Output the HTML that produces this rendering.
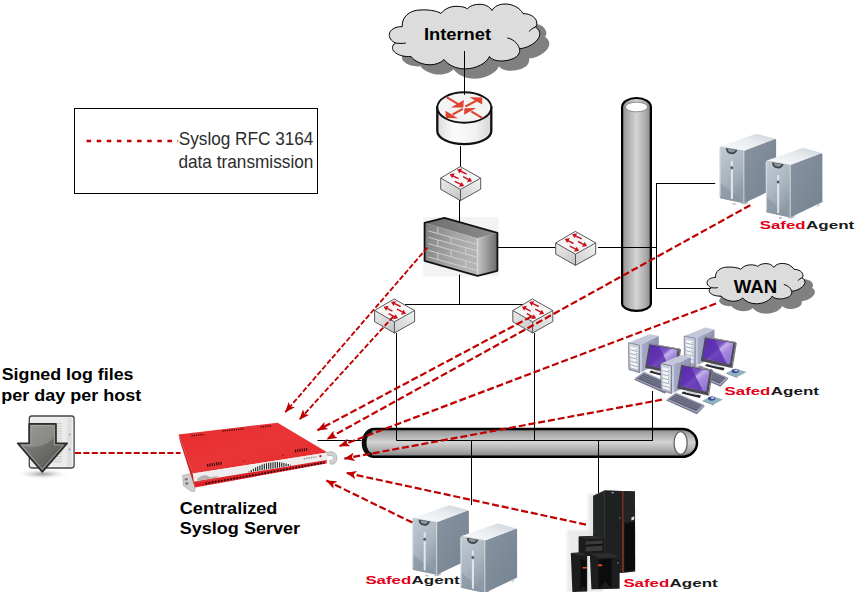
<!DOCTYPE html>
<html lang="en"><head><meta charset="utf-8"><title>Syslog diagram</title>
<style>html,body{margin:0;padding:0;background:#fff}body{width:859px;height:592px;overflow:hidden}</style>
</head><body>
<svg width="859" height="592" viewBox="0 0 859 592" style="display:block">

<defs>
<linearGradient id="vp" x1="0" x2="1" y1="0" y2="0">
 <stop offset="0" stop-color="#8a8a8a"/><stop offset="0.12" stop-color="#a2a2a2"/><stop offset="0.5" stop-color="#d4d4d4"/><stop offset="0.85" stop-color="#a6a6a6"/><stop offset="1" stop-color="#808080"/>
</linearGradient>
<linearGradient id="hp" x1="0" x2="0" y1="0" y2="1">
 <stop offset="0" stop-color="#808080"/><stop offset="0.12" stop-color="#a0a0a0"/><stop offset="0.48" stop-color="#d4d4d4"/><stop offset="0.82" stop-color="#a4a4a4"/><stop offset="1" stop-color="#7c7c7c"/>
</linearGradient>
<linearGradient id="rt" x1="0" x2="1" y1="0" y2="0">
 <stop offset="0" stop-color="#dcdcdc"/><stop offset="0.3" stop-color="#fbfbfb"/><stop offset="0.7" stop-color="#f2f2f2"/><stop offset="1" stop-color="#d6d6d6"/>
</linearGradient>
<linearGradient id="swl" x1="0" x2="1" y1="0" y2="1">
 <stop offset="0" stop-color="#ececec"/><stop offset="1" stop-color="#c4c4c4"/>
</linearGradient>
<linearGradient id="swr" x1="0" x2="1" y1="1" y2="0">
 <stop offset="0" stop-color="#cecece"/><stop offset="1" stop-color="#f2f2f2"/>
</linearGradient>
<linearGradient id="fwf" x1="0" x2="1" y1="0" y2="0.3">
 <stop offset="0" stop-color="#7e7e7e"/><stop offset="0.6" stop-color="#a4a4a4"/><stop offset="1" stop-color="#b4b4b4"/>
</linearGradient>
<linearGradient id="fwr" x1="0" x2="1" y1="0" y2="0">
 <stop offset="0" stop-color="#c6c6c6"/><stop offset="1" stop-color="#6c6c6c"/>
</linearGradient>
<linearGradient id="fwt" x1="0" x2="1" y1="0" y2="0">
 <stop offset="0" stop-color="#6e6e6e"/><stop offset="1" stop-color="#8c8c8c"/>
</linearGradient>
<linearGradient id="svf" x1="0" x2="0.4" y1="0" y2="1">
 <stop offset="0" stop-color="#c3ccd5"/><stop offset="0.6" stop-color="#a9b4bf"/><stop offset="1" stop-color="#8e9aa6"/>
</linearGradient>
<linearGradient id="svt" x1="0" x2="1" y1="1" y2="0">
 <stop offset="0" stop-color="#fbfcfd"/><stop offset="0.6" stop-color="#e6eaee"/><stop offset="1" stop-color="#c8d0d8"/>
</linearGradient>
<linearGradient id="svr" x1="0" x2="1" y1="0" y2="1">
 <stop offset="0" stop-color="#8793a0"/><stop offset="1" stop-color="#75828f"/>
</linearGradient>
<linearGradient id="scr" x1="0" x2="1" y1="0" y2="1">
 <stop offset="0" stop-color="#5a2fa8"/><stop offset="0.42" stop-color="#7d55c7"/><stop offset="0.5" stop-color="#c4b2ec"/><stop offset="0.62" stop-color="#a58ade"/><stop offset="1" stop-color="#8a6ad0"/>
</linearGradient>
<linearGradient id="twr" x1="0" x2="1" y1="0" y2="0">
 <stop offset="0" stop-color="#a9aeca"/><stop offset="1" stop-color="#8d93b2"/>
</linearGradient>
<linearGradient id="twf" x1="0" x2="0" y1="0" y2="1">
 <stop offset="0" stop-color="#cfd3e0"/><stop offset="1" stop-color="#a9aec2"/>
</linearGradient>
<linearGradient id="arr" x1="0" x2="1" y1="0" y2="1">
 <stop offset="0" stop-color="#90918c"/><stop offset="0.55" stop-color="#6c6d69"/><stop offset="1" stop-color="#4a4b48"/>
</linearGradient>
<linearGradient id="redtop" x1="0" x2="1" y1="0" y2="1">
 <stop offset="0" stop-color="#e52c2e"/><stop offset="0.5" stop-color="#ea3537"/><stop offset="1" stop-color="#e2282a"/>
</linearGradient>
<filter id="b1" x="-50%" y="-50%" width="200%" height="200%"><feGaussianBlur stdDeviation="0.6"/></filter>
<filter id="b2" x="-50%" y="-50%" width="200%" height="200%"><feGaussianBlur stdDeviation="1.6"/></filter>
<radialGradient id="shd"><stop offset="0" stop-color="#9a9a9a"/><stop offset="1" stop-color="#ffffff" stop-opacity="0"/></radialGradient>
<marker id="ah" viewBox="0 0 10 8" refX="9.6" refY="4" markerWidth="10.5" markerHeight="8.4" markerUnits="userSpaceOnUse" orient="auto">
 <path d="M10 4 L0 0 L2.4 4 L0 8 Z" fill="#c00000"/>
</marker>
<path id="cloud" d="M402.2 26.6 C401.5 17 410 10 420 10 C428 9.5 436 10.5 441 13.4 C445 8.5 451 6.3 456 6.3 C461 6.3 465 7 467.3 8.8 C470 5.5 475 4.3 480 4.3 C485 4.3 489.5 6.5 492 10.5 C494 6.5 499 4 505 4 C513 4 520 8 523 13.6 C530 13.5 537.5 17.5 536.8 24.4 C536.6 25.5 536 26.3 535.5 27 C538.5 29 540 31.5 539.8 34.4 C539.5 40 531 47.5 519.5 48.8 C520 51 519.5 52.5 518.8 53.8 C517 58 509 61 501 61 C496 61 491.5 59.5 489.4 56.5 C487 63 476 68.9 465 68.9 C456 68.9 448 65 444 59.5 C441 63 435 64.8 430 64.8 C422 64.8 414 61 411 56.5 C405 57 398 55.5 394.5 52 C391.5 49 391.8 45.5 395.5 43 C391 41 389 37.5 389.3 34.4 C389.6 30 395 26.5 402.2 26.6 Z"/>
<path id="cloudticks" d="M395.5 43 C399 43.6 403 43.6 405.8 43 M535.5 27 C533 28 530.5 29.8 528.9 31.6 M507.3 38 C512 38.5 518 43 519.5 48.8"/>
</defs>

<g>
<path d="M622.1 107 A14.4 9 0 0 1 650.9 107 L650.9 303.5 A14.4 7.3 0 0 1 622.1 303.5 Z" fill="url(#vp)" stroke="#000" stroke-width="2.2"/>
<ellipse cx="636.5" cy="107" rx="11.2" ry="4.8" fill="#fff" stroke="#555" stroke-width="0.6"/>
</g>
<g>
<path d="M374 429 L682 429 A15 13.9 0 0 1 682 456.8 L374 456.8 A11 13.9 0 0 1 374 429 Z" fill="url(#hp)" stroke="#000" stroke-width="2.5"/>
<path d="M372 430.4 A8.6 12.6 0 0 0 372 455.4" fill="none" stroke="#0a0a0a" stroke-width="4" filter="url(#b1)"/>
<path d="M369.6 437 L369.6 449" fill="none" stroke="#f0f0f0" stroke-width="2.6" filter="url(#b1)" opacity="0.9"/>
<ellipse cx="680.6" cy="443" rx="6.6" ry="11.4" fill="#fff" stroke="#6a6a6a" stroke-width="1.4"/>
</g>
<g stroke="#000" stroke-width="1" fill="none">
<line x1="460.5" y1="146" x2="460.5" y2="167.5"/>
<line x1="459.5" y1="274.6" x2="459.5" y2="304.5"/>
<line x1="405.2" y1="304.5" x2="523.3" y2="304.5"/>
<line x1="497.3" y1="247.5" x2="555.4" y2="247.5"/>
<line x1="598" y1="247.5" x2="657" y2="247.5"/>
<line x1="656.5" y1="183" x2="656.5" y2="289"/>
<line x1="656.5" y1="183.5" x2="715.2" y2="183.5"/>
<line x1="396.5" y1="333" x2="396.5" y2="440.5"/>
<line x1="534.5" y1="333" x2="534.5" y2="440.5"/>
<line x1="396.5" y1="440.5" x2="653" y2="440.5"/>
<line x1="652.5" y1="391" x2="652.5" y2="440.5"/>
<line x1="471.5" y1="440.5" x2="471.5" y2="505"/>
<line x1="598.5" y1="440.5" x2="598.5" y2="493"/>
<line x1="317.5" y1="440.5" x2="361.5" y2="440.5"/>
</g>
<g><use href="#cloud" transform="translate(9.5,9.8)" fill="#808080"/><use href="#cloud" fill="#dcdcdc" stroke="#000" stroke-width="1"/><use href="#cloudticks" fill="none" stroke="#000" stroke-width="1"/></g>
<g><g transform="translate(10,10)"><use href="#cloud" transform="translate(454.06,260.91) scale(0.65,0.6225)" fill="#808080"/></g><g transform="translate(454.06,260.91) scale(0.65,0.6225)"><use href="#cloud" fill="#dcdcdc" stroke="#000" stroke-width="1.5"/><use href="#cloudticks" fill="none" stroke="#000" stroke-width="1.5"/></g></g>
<g stroke="#000" stroke-width="1" fill="none">
<line x1="464.5" y1="51" x2="464.5" y2="95"/>
</g>
<g stroke="#000" stroke-width="1" fill="none">
<line x1="656.5" y1="288.5" x2="710.8" y2="288.5"/>
</g>
<g>
<path d="M437.3 107.2 L437.3 131 A27 13.2 0 0 0 491.3 131 L491.3 107.2 Z" fill="url(#rt)" stroke="#111" stroke-width="2.3"/>
<ellipse cx="464.3" cy="107.5" rx="27" ry="15.2" fill="#f4f4f4" stroke="#111" stroke-width="2"/>
<g fill="#de4431" stroke="#de4431" stroke-width="2.1">
<path d="M446.8 97.4 L458.3 104.2 M465.4 106.5 L476.6 100.6 M462.8 108.9 L452.7 114.5 M482 117.8 L471.3 111.3" fill="none"/>
<g stroke="none">
<path d="M463.8 100.1 L463.4 107.5 L451 107.5 Z"/>
<path d="M469.4 97.3 L482.2 97.5 L482.2 104.4 Z"/>
<path d="M445.5 110.8 L445.8 118 L457.9 118.2 Z"/>
<path d="M476.2 107.9 L464.4 108.2 L464.1 114.7 Z"/>
</g>
</g>
<line x1="464.5" y1="80" x2="464.5" y2="94.8" stroke="#000" stroke-width="1"/>
</g>
<g transform="translate(460.3,166.6)">
<path d="M-19.6 11.5 L0.2 22.8 L0.2 34 L-19.6 22.7 Z" fill="url(#swl)"/>
<path d="M20.4 11.5 L0.2 22.8 L0.2 34 L20.4 22.6 Z" fill="url(#swr)"/>
<path d="M0 0 L20.4 11.5 L0.2 22.8 L-19.6 11.5 Z" fill="#f7f7f7"/>
<path d="M0 0 L20.4 11.5 L20.4 22.6 L0.2 34 L-19.6 22.7 L-19.6 11.5 Z M-19.6 11.5 L0.2 22.8 L20.4 11.5 M0.2 22.8 L0.2 34" fill="none" stroke="#3c3c3c" stroke-width="0.85" stroke-linejoin="round"/>
<g stroke="#cb0f1c" stroke-width="1.5" fill="#cb0f1c">
<path d="M6.4 7.5 L0 4.4" fill="none"/><path d="M-3.2 2.9 L1.9 1.9 L-0.7 6.9 Z" stroke="none"/>
<path d="M-1.8 12.1 L-7.4 9.2" fill="none"/><path d="M-10.6 7.7 L-5.5 6.7 L-8.1 11.7 Z" stroke="none"/>
<path d="M2.8 10.1 L8.6 13.2" fill="none"/><path d="M11.8 14.7 L6.7 15.7 L9.3 10.7 Z" stroke="none"/>
<path d="M-5.6 14.7 L0.6 17.8" fill="none"/><path d="M3.8 19.3 L-1.3 20.3 L1.3 15.3 Z" stroke="none"/>
</g>
</g>
<g transform="translate(575.3,231.4)">
<path d="M-19.6 11.5 L0.2 22.8 L0.2 34 L-19.6 22.7 Z" fill="url(#swl)"/>
<path d="M20.4 11.5 L0.2 22.8 L0.2 34 L20.4 22.6 Z" fill="url(#swr)"/>
<path d="M0 0 L20.4 11.5 L0.2 22.8 L-19.6 11.5 Z" fill="#f7f7f7"/>
<path d="M0 0 L20.4 11.5 L20.4 22.6 L0.2 34 L-19.6 22.7 L-19.6 11.5 Z M-19.6 11.5 L0.2 22.8 L20.4 11.5 M0.2 22.8 L0.2 34" fill="none" stroke="#3c3c3c" stroke-width="0.85" stroke-linejoin="round"/>
<g stroke="#cb0f1c" stroke-width="1.5" fill="#cb0f1c">
<path d="M6.4 7.5 L0 4.4" fill="none"/><path d="M-3.2 2.9 L1.9 1.9 L-0.7 6.9 Z" stroke="none"/>
<path d="M-1.8 12.1 L-7.4 9.2" fill="none"/><path d="M-10.6 7.7 L-5.5 6.7 L-8.1 11.7 Z" stroke="none"/>
<path d="M2.8 10.1 L8.6 13.2" fill="none"/><path d="M11.8 14.7 L6.7 15.7 L9.3 10.7 Z" stroke="none"/>
<path d="M-5.6 14.7 L0.6 17.8" fill="none"/><path d="M3.8 19.3 L-1.3 20.3 L1.3 15.3 Z" stroke="none"/>
</g>
</g>
<g transform="translate(394.2,299)">
<path d="M-19.6 11.5 L0.2 22.8 L0.2 34 L-19.6 22.7 Z" fill="url(#swl)"/>
<path d="M20.4 11.5 L0.2 22.8 L0.2 34 L20.4 22.6 Z" fill="url(#swr)"/>
<path d="M0 0 L20.4 11.5 L0.2 22.8 L-19.6 11.5 Z" fill="#f7f7f7"/>
<path d="M0 0 L20.4 11.5 L20.4 22.6 L0.2 34 L-19.6 22.7 L-19.6 11.5 Z M-19.6 11.5 L0.2 22.8 L20.4 11.5 M0.2 22.8 L0.2 34" fill="none" stroke="#3c3c3c" stroke-width="0.85" stroke-linejoin="round"/>
<g stroke="#cb0f1c" stroke-width="1.5" fill="#cb0f1c">
<path d="M6.4 7.5 L0 4.4" fill="none"/><path d="M-3.2 2.9 L1.9 1.9 L-0.7 6.9 Z" stroke="none"/>
<path d="M-1.8 12.1 L-7.4 9.2" fill="none"/><path d="M-10.6 7.7 L-5.5 6.7 L-8.1 11.7 Z" stroke="none"/>
<path d="M2.8 10.1 L8.6 13.2" fill="none"/><path d="M11.8 14.7 L6.7 15.7 L9.3 10.7 Z" stroke="none"/>
<path d="M-5.6 14.7 L0.6 17.8" fill="none"/><path d="M3.8 19.3 L-1.3 20.3 L1.3 15.3 Z" stroke="none"/>
</g>
</g>
<g transform="translate(532.4,299)">
<path d="M-19.6 11.5 L0.2 22.8 L0.2 34 L-19.6 22.7 Z" fill="url(#swl)"/>
<path d="M20.4 11.5 L0.2 22.8 L0.2 34 L20.4 22.6 Z" fill="url(#swr)"/>
<path d="M0 0 L20.4 11.5 L0.2 22.8 L-19.6 11.5 Z" fill="#f7f7f7"/>
<path d="M0 0 L20.4 11.5 L20.4 22.6 L0.2 34 L-19.6 22.7 L-19.6 11.5 Z M-19.6 11.5 L0.2 22.8 L20.4 11.5 M0.2 22.8 L0.2 34" fill="none" stroke="#3c3c3c" stroke-width="0.85" stroke-linejoin="round"/>
<g stroke="#cb0f1c" stroke-width="1.5" fill="#cb0f1c">
<path d="M6.4 7.5 L0 4.4" fill="none"/><path d="M-3.2 2.9 L1.9 1.9 L-0.7 6.9 Z" stroke="none"/>
<path d="M-1.8 12.1 L-7.4 9.2" fill="none"/><path d="M-10.6 7.7 L-5.5 6.7 L-8.1 11.7 Z" stroke="none"/>
<path d="M2.8 10.1 L8.6 13.2" fill="none"/><path d="M11.8 14.7 L6.7 15.7 L9.3 10.7 Z" stroke="none"/>
<path d="M-5.6 14.7 L0.6 17.8" fill="none"/><path d="M3.8 19.3 L-1.3 20.3 L1.3 15.3 Z" stroke="none"/>
</g>
</g>
<g>
<rect x="423.2" y="217" width="75.5" height="59.5" fill="#f3f3f3"/>
<path d="M425 222.9 L444.4 218.3 L497 233.2 L477.3 238.3 Z" fill="url(#fwt)"/>
<path d="M425 222.9 L477.3 238.3 L477.3 275.3 L425 260.5 Z" fill="url(#fwf)"/>
<path d="M477.3 238.3 L497 233.2 L497 270.6 L477.3 275.3 Z" fill="url(#fwr)"/>
<g stroke="#d4d4d4" stroke-width="0.9" fill="none">
<path d="M428.3 230.9 L477.1 244.5 M428.3 237.3 L477.1 250.8 M428.3 243.6 L477.1 257.2 M428.3 250.3 L477.1 264.1 M428.3 256.9 L477.1 270.5"/>
<path d="M437.8 227.2 L437.8 233.5 M451.1 237.2 L451.1 243.6 M437.8 239.9 L437.8 246.3 M465.7 247.6 L465.7 254.1 M451.1 249.9 L451.1 256.6 M437.8 252.9 L437.8 259.5 M465.7 260.8 L465.7 267.3"/>
</g>
<path d="M477.3 238.3 L477.3 275.3" stroke="#e0e0e0" stroke-width="0.8"/>
<path d="M424.6 222.8 L444.4 217.9 L497.4 232.9 L497.4 270.8 L477.5 275.9 L424.6 260.8 Z" fill="none" stroke="#111" stroke-width="1.8" stroke-linejoin="round"/>
</g>
<g stroke="#000" stroke-width="1" fill="none">
<line x1="459.5" y1="200" x2="459.5" y2="223"/>
<line x1="497.3" y1="247.5" x2="520" y2="247.5"/>
<line x1="459.5" y1="274.6" x2="459.5" y2="290"/>
</g>
<g transform="translate(719.6,146.4)">
<path d="M13 56.5 L16 57 L16 58.6 L13 58.2 Z M21 57.6 L25.5 58 L28.5 56.8 L28.5 54 Z M50 46.5 L53.5 45.2 L53.5 43 Z" fill="#b9bfc4"/>
<path d="M24.3 4.3 L55.2 -7.4 Q56.5 -7.6 56.5 -6 L56.5 41.5 L24.3 56.8 Z" fill="url(#svr)"/>
<path d="M1 -0.2 L36 -12.4 Q37 -12.7 38.5 -12.3 L55.8 -7.6 L24.3 4.4 L1.5 0.6 Z" fill="url(#svt)"/>
<path d="M0 1.4 Q0 -0.2 1.6 0 L24.3 4.2 L24.3 56.8 L1.3 52 Q0.2 51.6 0.2 50.4 Z" fill="url(#svf)"/>
<path d="M0.2 36 L24.3 56.8 L1.3 52 Q0.2 51.6 0.2 50.4 Z" fill="#8593a0" opacity="0.55"/>
<path d="M0.3 1.2 L0.5 50" stroke="#dfe5ea" stroke-width="0.9" fill="none"/>
<path d="M24.3 4.4 L24.3 56.6" stroke="#d9dfe5" stroke-width="0.8" fill="none"/>
<path d="M6.2 1.6 L17.8 3.7 A6 6.4 0 0 1 6.2 1.6 Z" fill="#3f464c"/>
<path d="M8 2.3 L16 3.7 A4.2 4 0 0 1 8 2.3 Z" fill="#8e979e"/>
<rect x="11.3" y="12.5" width="2" height="38" fill="#e1e6ea" transform="skewY(9)" />
<circle cx="12.2" cy="21.4" r="1.7" fill="#4c5560" stroke="#c5ccd2" stroke-width="0.5"/>
</g>
<g transform="translate(765.9,160.6)">
<path d="M13 56.5 L16 57 L16 58.6 L13 58.2 Z M21 57.6 L25.5 58 L28.5 56.8 L28.5 54 Z M50 46.5 L53.5 45.2 L53.5 43 Z" fill="#b9bfc4"/>
<path d="M24.3 4.3 L55.2 -7.4 Q56.5 -7.6 56.5 -6 L56.5 41.5 L24.3 56.8 Z" fill="url(#svr)"/>
<path d="M1 -0.2 L36 -12.4 Q37 -12.7 38.5 -12.3 L55.8 -7.6 L24.3 4.4 L1.5 0.6 Z" fill="url(#svt)"/>
<path d="M0 1.4 Q0 -0.2 1.6 0 L24.3 4.2 L24.3 56.8 L1.3 52 Q0.2 51.6 0.2 50.4 Z" fill="url(#svf)"/>
<path d="M0.2 36 L24.3 56.8 L1.3 52 Q0.2 51.6 0.2 50.4 Z" fill="#8593a0" opacity="0.55"/>
<path d="M0.3 1.2 L0.5 50" stroke="#dfe5ea" stroke-width="0.9" fill="none"/>
<path d="M24.3 4.4 L24.3 56.6" stroke="#d9dfe5" stroke-width="0.8" fill="none"/>
<path d="M6.2 1.6 L17.8 3.7 A6 6.4 0 0 1 6.2 1.6 Z" fill="#3f464c"/>
<path d="M8 2.3 L16 3.7 A4.2 4 0 0 1 8 2.3 Z" fill="#8e979e"/>
<rect x="11.3" y="12.5" width="2" height="38" fill="#e1e6ea" transform="skewY(9)" />
<circle cx="12.2" cy="21.4" r="1.7" fill="#4c5560" stroke="#c5ccd2" stroke-width="0.5"/>
</g>
<g transform="translate(412.4,517.9)">
<path d="M13 56.5 L16 57 L16 58.6 L13 58.2 Z M21 57.6 L25.5 58 L28.5 56.8 L28.5 54 Z M50 46.5 L53.5 45.2 L53.5 43 Z" fill="#b9bfc4"/>
<path d="M24.3 4.3 L55.2 -7.4 Q56.5 -7.6 56.5 -6 L56.5 41.5 L24.3 56.8 Z" fill="url(#svr)"/>
<path d="M1 -0.2 L36 -12.4 Q37 -12.7 38.5 -12.3 L55.8 -7.6 L24.3 4.4 L1.5 0.6 Z" fill="url(#svt)"/>
<path d="M0 1.4 Q0 -0.2 1.6 0 L24.3 4.2 L24.3 56.8 L1.3 52 Q0.2 51.6 0.2 50.4 Z" fill="url(#svf)"/>
<path d="M0.2 36 L24.3 56.8 L1.3 52 Q0.2 51.6 0.2 50.4 Z" fill="#8593a0" opacity="0.55"/>
<path d="M0.3 1.2 L0.5 50" stroke="#dfe5ea" stroke-width="0.9" fill="none"/>
<path d="M24.3 4.4 L24.3 56.6" stroke="#d9dfe5" stroke-width="0.8" fill="none"/>
<path d="M6.2 1.6 L17.8 3.7 A6 6.4 0 0 1 6.2 1.6 Z" fill="#3f464c"/>
<path d="M8 2.3 L16 3.7 A4.2 4 0 0 1 8 2.3 Z" fill="#8e979e"/>
<rect x="11.3" y="12.5" width="2" height="38" fill="#e1e6ea" transform="skewY(9)" />
<circle cx="12.2" cy="21.4" r="1.7" fill="#4c5560" stroke="#c5ccd2" stroke-width="0.5"/>
</g>
<g transform="translate(460.6,536.1)">
<path d="M13 56.5 L16 57 L16 58.6 L13 58.2 Z M21 57.6 L25.5 58 L28.5 56.8 L28.5 54 Z M50 46.5 L53.5 45.2 L53.5 43 Z" fill="#b9bfc4"/>
<path d="M24.3 4.3 L55.2 -7.4 Q56.5 -7.6 56.5 -6 L56.5 41.5 L24.3 56.8 Z" fill="url(#svr)"/>
<path d="M1 -0.2 L36 -12.4 Q37 -12.7 38.5 -12.3 L55.8 -7.6 L24.3 4.4 L1.5 0.6 Z" fill="url(#svt)"/>
<path d="M0 1.4 Q0 -0.2 1.6 0 L24.3 4.2 L24.3 56.8 L1.3 52 Q0.2 51.6 0.2 50.4 Z" fill="url(#svf)"/>
<path d="M0.2 36 L24.3 56.8 L1.3 52 Q0.2 51.6 0.2 50.4 Z" fill="#8593a0" opacity="0.55"/>
<path d="M0.3 1.2 L0.5 50" stroke="#dfe5ea" stroke-width="0.9" fill="none"/>
<path d="M24.3 4.4 L24.3 56.6" stroke="#d9dfe5" stroke-width="0.8" fill="none"/>
<path d="M6.2 1.6 L17.8 3.7 A6 6.4 0 0 1 6.2 1.6 Z" fill="#3f464c"/>
<path d="M8 2.3 L16 3.7 A4.2 4 0 0 1 8 2.3 Z" fill="#8e979e"/>
<rect x="11.3" y="12.5" width="2" height="38" fill="#e1e6ea" transform="skewY(9)" />
<circle cx="12.2" cy="21.4" r="1.7" fill="#4c5560" stroke="#c5ccd2" stroke-width="0.5"/>
</g>
<g transform="translate(-32.1,-20.8)">
<path d="M671.5 365.9 L690.9 356.9 L690.9 385 L671.5 393.6 Z" fill="url(#twr)"/>
<path d="M671.9 366 L674 365 L674 392.4 L671.9 393.4 Z" fill="#c9cde0"/>
<path d="M660.5 363.6 L681.6 355.1 L690.9 356.9 L671.5 365.9 Z" fill="#c3c7d9"/>
<path d="M660.5 363.6 L671.5 365.9 L671.5 393.6 L661 390.4 Z" fill="url(#twf)" stroke="#5a5d70" stroke-width="0.6"/>
<path d="M662.4 367.2 L669.8 368.8 L669.8 390.4 L662.8 388.2 Z" fill="#f4f5f9"/>
<path d="M662.5 370.6 L669.7 372.3 M662.6 374.4 L669.7 376.2 M662.7 378.2 L669.7 380.1 M662.8 382 L669.7 384 M662.8 385.6 L669.7 387.6" stroke="#8489a0" stroke-width="0.7"/>
<path d="M668.6 370 L668.6 384" stroke="#35b048" stroke-width="0.9" stroke-dasharray="1 2.8"/>
<path d="M666.2 400.6 L675.9 393.4 L704.8 406.1 L696.8 414.2 Z" fill="#6f7389"/>
<path d="M666.4 399.4 L675.9 392.4 L704.6 405 L696.8 412.8 Z" fill="#a9acc0"/>
<path d="M668.6 399.2 L676 394 L702.2 405.3 L696.3 411.2 Z" fill="#5b5e74"/>
<path d="M670.6 397.8 L698.2 409.4 M672.6 396.4 L699.8 407.9 M674.4 395.1 L701 406.4" stroke="#9a9db4" stroke-width="0.5"/>
<path d="M668.6 399.2 L676 394 L702.2 405.3 L696.3 411.2 Z" fill="none" stroke="#8d90a8" stroke-width="1" stroke-dasharray="0.6 1.4" opacity="0.7"/>
<path d="M702.8 400.2 L712 396 L723 399.4 L713.7 404.6 Z" fill="#8fb3c1"/>
<path d="M702.8 400.2 L713.7 404.6 L713.7 405.6 L702.8 401.2 Z" fill="#6a8c9a"/>
<ellipse cx="711.6" cy="398.6" rx="3.7" ry="2.1" fill="#3f4c8e"/>
<ellipse cx="712.6" cy="398" rx="1.8" ry="1" fill="#c4cbea"/>
<path d="M683 391.4 L701 395.6 L699.8 398 L681.5 393.4 Z" fill="#26262c"/>
<path d="M687 388.4 L697.5 390.6 L697 395 L685.5 392.6 Z" fill="#d4d6e0"/>
<path d="M681.4 364 L712.2 369.6 L708 395.4 L677.2 388.6 Z" fill="#4b4b53"/>
<path d="M681.5 364.5 L712 370.1" stroke="#9b9ba3" stroke-width="1"/>
<path d="M711.6 369.5 L713.2 370.4 L709 396 L708 395.4 Z" fill="#77777f"/>
<path d="M682.9 365.9 L709.7 370.8 L706.3 391.7 L679.4 385.8 Z" fill="url(#scr)"/>
<path d="M682.9 365.9 L691.4 367.4 L703 391 L679.4 385.8 Z" fill="#5a2cae" opacity="0.8"/>
</g>
<g transform="translate(23.6,-27.5)">
<path d="M671.5 365.9 L690.9 356.9 L690.9 385 L671.5 393.6 Z" fill="url(#twr)"/>
<path d="M671.9 366 L674 365 L674 392.4 L671.9 393.4 Z" fill="#c9cde0"/>
<path d="M660.5 363.6 L681.6 355.1 L690.9 356.9 L671.5 365.9 Z" fill="#c3c7d9"/>
<path d="M660.5 363.6 L671.5 365.9 L671.5 393.6 L661 390.4 Z" fill="url(#twf)" stroke="#5a5d70" stroke-width="0.6"/>
<path d="M662.4 367.2 L669.8 368.8 L669.8 390.4 L662.8 388.2 Z" fill="#f4f5f9"/>
<path d="M662.5 370.6 L669.7 372.3 M662.6 374.4 L669.7 376.2 M662.7 378.2 L669.7 380.1 M662.8 382 L669.7 384 M662.8 385.6 L669.7 387.6" stroke="#8489a0" stroke-width="0.7"/>
<path d="M668.6 370 L668.6 384" stroke="#35b048" stroke-width="0.9" stroke-dasharray="1 2.8"/>
<path d="M666.2 400.6 L675.9 393.4 L704.8 406.1 L696.8 414.2 Z" fill="#6f7389"/>
<path d="M666.4 399.4 L675.9 392.4 L704.6 405 L696.8 412.8 Z" fill="#a9acc0"/>
<path d="M668.6 399.2 L676 394 L702.2 405.3 L696.3 411.2 Z" fill="#5b5e74"/>
<path d="M670.6 397.8 L698.2 409.4 M672.6 396.4 L699.8 407.9 M674.4 395.1 L701 406.4" stroke="#9a9db4" stroke-width="0.5"/>
<path d="M668.6 399.2 L676 394 L702.2 405.3 L696.3 411.2 Z" fill="none" stroke="#8d90a8" stroke-width="1" stroke-dasharray="0.6 1.4" opacity="0.7"/>
<path d="M702.8 400.2 L712 396 L723 399.4 L713.7 404.6 Z" fill="#8fb3c1"/>
<path d="M702.8 400.2 L713.7 404.6 L713.7 405.6 L702.8 401.2 Z" fill="#6a8c9a"/>
<ellipse cx="711.6" cy="398.6" rx="3.7" ry="2.1" fill="#3f4c8e"/>
<ellipse cx="712.6" cy="398" rx="1.8" ry="1" fill="#c4cbea"/>
<path d="M683 391.4 L701 395.6 L699.8 398 L681.5 393.4 Z" fill="#26262c"/>
<path d="M687 388.4 L697.5 390.6 L697 395 L685.5 392.6 Z" fill="#d4d6e0"/>
<path d="M681.4 364 L712.2 369.6 L708 395.4 L677.2 388.6 Z" fill="#4b4b53"/>
<path d="M681.5 364.5 L712 370.1" stroke="#9b9ba3" stroke-width="1"/>
<path d="M711.6 369.5 L713.2 370.4 L709 396 L708 395.4 Z" fill="#77777f"/>
<path d="M682.9 365.9 L709.7 370.8 L706.3 391.7 L679.4 385.8 Z" fill="url(#scr)"/>
<path d="M682.9 365.9 L691.4 367.4 L703 391 L679.4 385.8 Z" fill="#5a2cae" opacity="0.8"/>
</g>
<g transform="translate(0,0)">
<path d="M671.5 365.9 L690.9 356.9 L690.9 385 L671.5 393.6 Z" fill="url(#twr)"/>
<path d="M671.9 366 L674 365 L674 392.4 L671.9 393.4 Z" fill="#c9cde0"/>
<path d="M660.5 363.6 L681.6 355.1 L690.9 356.9 L671.5 365.9 Z" fill="#c3c7d9"/>
<path d="M660.5 363.6 L671.5 365.9 L671.5 393.6 L661 390.4 Z" fill="url(#twf)" stroke="#5a5d70" stroke-width="0.6"/>
<path d="M662.4 367.2 L669.8 368.8 L669.8 390.4 L662.8 388.2 Z" fill="#f4f5f9"/>
<path d="M662.5 370.6 L669.7 372.3 M662.6 374.4 L669.7 376.2 M662.7 378.2 L669.7 380.1 M662.8 382 L669.7 384 M662.8 385.6 L669.7 387.6" stroke="#8489a0" stroke-width="0.7"/>
<path d="M668.6 370 L668.6 384" stroke="#35b048" stroke-width="0.9" stroke-dasharray="1 2.8"/>
<path d="M666.2 400.6 L675.9 393.4 L704.8 406.1 L696.8 414.2 Z" fill="#6f7389"/>
<path d="M666.4 399.4 L675.9 392.4 L704.6 405 L696.8 412.8 Z" fill="#a9acc0"/>
<path d="M668.6 399.2 L676 394 L702.2 405.3 L696.3 411.2 Z" fill="#5b5e74"/>
<path d="M670.6 397.8 L698.2 409.4 M672.6 396.4 L699.8 407.9 M674.4 395.1 L701 406.4" stroke="#9a9db4" stroke-width="0.5"/>
<path d="M668.6 399.2 L676 394 L702.2 405.3 L696.3 411.2 Z" fill="none" stroke="#8d90a8" stroke-width="1" stroke-dasharray="0.6 1.4" opacity="0.7"/>
<path d="M702.8 400.2 L712 396 L723 399.4 L713.7 404.6 Z" fill="#8fb3c1"/>
<path d="M702.8 400.2 L713.7 404.6 L713.7 405.6 L702.8 401.2 Z" fill="#6a8c9a"/>
<ellipse cx="711.6" cy="398.6" rx="3.7" ry="2.1" fill="#3f4c8e"/>
<ellipse cx="712.6" cy="398" rx="1.8" ry="1" fill="#c4cbea"/>
<path d="M683 391.4 L701 395.6 L699.8 398 L681.5 393.4 Z" fill="#26262c"/>
<path d="M687 388.4 L697.5 390.6 L697 395 L685.5 392.6 Z" fill="#d4d6e0"/>
<path d="M681.4 364 L712.2 369.6 L708 395.4 L677.2 388.6 Z" fill="#4b4b53"/>
<path d="M681.5 364.5 L712 370.1" stroke="#9b9ba3" stroke-width="1"/>
<path d="M711.6 369.5 L713.2 370.4 L709 396 L708 395.4 Z" fill="#77777f"/>
<path d="M682.9 365.9 L709.7 370.8 L706.3 391.7 L679.4 385.8 Z" fill="url(#scr)"/>
<path d="M682.9 365.9 L691.4 367.4 L703 391 L679.4 385.8 Z" fill="#5a2cae" opacity="0.8"/>
</g>
<g stroke="#000" stroke-width="1" fill="none">
<line x1="652.5" y1="391" x2="652.5" y2="430"/>
</g>
<g>
<rect x="567" y="530" width="36" height="62" fill="#ebebeb" filter="url(#b2)"/>
<rect x="588.6" y="494" width="8" height="46" fill="#e4e4e4" filter="url(#b2)"/>
<path d="M593.1 495.8 L604.3 490.4 L604.3 571 L593.1 566 Z" fill="#242526"/>
<path d="M604.3 490.4 L635 491.4 L635.2 571.6 L622 573 L604.3 571 Z" fill="#1a1b1c"/>
<path d="M604.3 490.4 L622.4 491 L622.4 572.8 L604.3 571 Z" fill="#1f2021"/>
<path d="M604.6 491 L604.6 570.8" stroke="#3a3b3c" stroke-width="0.7"/>
<path d="M622.4 491 L623.6 491 L623.6 572.9 L622.4 572.8 Z" fill="#a6401f"/>
<path d="M623.6 491.1 L635 491.4 L635 521.6 L623.6 522.6 Z" fill="#232425"/>
<path d="M624.6 523.4 L634.9 522.4 L634.9 569.4 L624.6 571.4 Z" fill="#0b0b0c"/>
<path d="M631.4 517.4 L634.2 516.2 L634.2 519.4 L631.4 520.6 Z" fill="#dcdcdc"/>
<rect x="611.6" y="492.2" width="2.2" height="1.1" fill="#c0c0c0"/>
<rect x="619.4" y="517" width="0.8" height="2" fill="#777"/>
<path d="M578.6 536.6 L597 535.8 L604.4 538.2 L604.4 556 L578.6 556 Z" fill="#1b1c1d"/>
<path d="M578.6 536.6 L597 535.8 L604.4 538.2 L586 539.2 Z" fill="#2c2d2e"/>
<path d="M585.6 541.4 L602.4 540.4 L602.4 544 L585.6 545 Z M585.6 546.8 L602.4 545.8 L602.4 550.4 L585.6 551.4 Z" fill="#3a3b3d"/>
<path d="M585.6 545.3 L602.4 544.3" stroke="#0a0a0a" stroke-width="0.8"/>
<path d="M570.8 553 L581.4 552.4 L587.2 554.8 L587.2 591.4 L572.4 592 Z" fill="#1b1c1d"/>
<path d="M570.8 553 L581.4 552.4 L587.2 554.8 L577 555.6 Z" fill="#2d2e2f"/>
<path d="M580.6 559.4 L586.4 560.6 L586.4 590 L583.4 585.4 L580.6 590.4 Z" fill="#0a0a0b"/>
<rect x="582.6" y="567" width="4.2" height="1.5" fill="#e0562c"/>
<path d="M589.8 553.6 L610 553 L619.6 557.4 L619.6 588.8 L591.4 589.2 Z" fill="#1c1d1e"/>
<path d="M589.8 553.6 L610 553 L619.6 557.4 L599 558 Z" fill="#2d2e2f"/>
<path d="M598.6 559.8 L611.4 558.4 L611.4 588.8 L605.4 581.4 L598.6 589 Z" fill="#0c0c0d"/>
<rect x="598" y="564.4" width="4.2" height="1.8" fill="#e0562c"/>
<rect x="617" y="562.2" width="1.4" height="1.2" fill="#8a8a8a"/>
</g>
<g>
<path d="M182.6 475.4 L193 473.4 L195 488.2 L194.6 491.6 L190.6 491 L183.4 485.6 Z" fill="#cfcfcf" stroke="#9a9a9a" stroke-width="0.6"/>
<path d="M184.6 478.4 L187.6 477.9 L187.8 480 L184.8 480.5 Z M185.2 482.6 L188.2 482.2 L188.4 484.4 L185.4 484.8 Z" fill="#777"/>
<path d="M326.4 453 C331 450.2 336.4 452 336.9 457.4 C337.3 462 334 465 330.4 464 L329.6 460.6 C332 461 333.6 459.6 333.4 457.4 C333.2 455.4 331 454.8 328.6 456 Z" fill="#d2d2d2" stroke="#9a9a9a" stroke-width="0.6"/>
<path d="M178.6 434.5 L277.6 422.8 L327.5 452.6 L192.8 473.6 Z" fill="url(#redtop)"/>
<path d="M178.6 434.5 L192.8 473.6 L194.8 487.5 L179.6 440 Z" fill="#cc2124"/>
<path d="M192.8 473.6 L327.5 452.6 L326.5 463.5 L194.8 487.6 Z" fill="#dc2226"/>
<path d="M192.8 473.7 L327.5 452.7 L327 460.1 L193.9 481.7 Z" fill="#ededed"/>
<path d="M192.8 473.9 L327.5 452.9" stroke="#fafafa" stroke-width="0.8"/>
<path d="M205.4 483.6 L324.4 462.6" stroke="#160606" stroke-width="1.7" stroke-dasharray="1.7 1.45" fill="none"/>
<g stroke="#1a1a1a" stroke-width="1.05" fill="none"><path d="M249.0 472.3 L249.0 471.5 M251.2 471.9 L251.2 470.0 M253.4 471.6 L253.4 468.7 M255.6 471.2 L255.6 467.5 M257.7 470.9 L257.7 466.4 M259.9 470.5 L259.9 465.4 M262.1 470.2 L262.1 464.6 M264.3 469.8 L264.3 463.8 M266.5 469.5 L266.5 463.2 M268.7 469.1 L268.7 462.7 M270.8 468.8 L270.8 462.4 M273.0 468.4 L273.0 462.2 M275.2 468.1 L275.2 462.1 M277.4 467.7 L277.4 462.1 M279.6 467.4 L279.6 462.2 M281.8 467.0 L281.8 462.5 M283.9 466.7 L283.9 462.9 M286.1 466.3 L286.1 463.4 M288.3 466.0 L288.3 464.0 M290.5 465.6 L290.5 464.8"/></g>
<g stroke="#2a0808" fill="none" stroke-dasharray="1.1 1.15">
<path d="M191.5 435.8 L203.8 434.4" stroke-width="1.3"/><path d="M222.5 431 L244.4 428.8" stroke-width="1.3"/><path d="M260.6 427 L272 425.8" stroke-width="1.3"/>
<path d="M207.2 465.4 L222.6 463" stroke-width="3"/><path d="M295 451 L308 449.2" stroke-width="2.8"/>
</g>
<path d="M303.8 458.8 L316.6 456.8" stroke="#8a8a8a" stroke-width="1.3" stroke-dasharray="1.4 1"/>
<rect x="319.4" y="455.2" width="2" height="2" fill="#a01818"/>
<path d="M197 479.4 C199 476.4 204 474.4 207.6 475.8 C209 476.4 210 477.4 211 477 L217.6 476 L217.8 477.6 L197.6 480.8 Z" fill="#b9b1b1"/>
<path d="M196.6 482 L217.8 478.6" stroke="#d84040" stroke-width="1.5"/>
<circle cx="244.3" cy="461.2" r="0.8" fill="#a81515"/><circle cx="282.9" cy="455.2" r="0.8" fill="#a81515"/>
</g>
<g>
<ellipse cx="42.5" cy="474" rx="28" ry="5.6" fill="url(#shd)"/>
<rect x="29.3" y="416" width="44.8" height="52" rx="2.4" fill="#f0f0f0" stroke="#444" stroke-width="1.3"/>
<rect x="31" y="417.8" width="36" height="48.4" fill="#e6e6e6" opacity="0.6"/>
<rect x="67.2" y="417.4" width="4.6" height="49.2" fill="#dedede"/>
<g stroke="#bcbcbc" stroke-width="0.7"><path d="M56.6 423.6 L61.8 423.6 M56.6 426.1 L61.8 426.1 M56.6 428.6 L61.8 428.6 M56.6 431.1 L61.8 431.1 M56.6 433.6 L61.8 433.6 M56.6 436.1 L61.8 436.1 M56.6 438.6 L61.8 438.6 M56.6 441.1 L61.8 441.1 M58 451.4 L61.8 451.4 M56 454 L61.8 454 M54 456.6 L61.8 456.6 M52 459.2 L61.8 459.2 M50 461.8 L61.8 461.8"/></g>
<circle cx="69.6" cy="434.6" r="0.8" fill="#8c8c8c"/><circle cx="69.6" cy="449.4" r="0.8" fill="#8c8c8c"/>
<path d="M29.2 423.9 L56 423.9 L56 443.3 L67.2 443.3 L42.3 471.9 L17.6 443.3 L29.2 443.3 Z" fill="url(#arr)" stroke="#2c2c2c" stroke-width="1.7" stroke-linejoin="round"/>
<path d="M30.9 425.6 L54.3 425.6 L54.3 445 L63.4 445 L42.3 469.3 L21.3 445 L30.9 445 Z" fill="none" stroke="#c2c3be" stroke-width="0.8" opacity="0.75"/>
<path d="M31.4 426 L53.8 426 L53.8 438 C46 446 36 449 23 445.4 L31.4 445.4 Z" fill="#b4b5b0" opacity="0.35"/>
</g>
<g stroke="#c00000" fill="none">
<line x1="427.3" y1="247.6" x2="285.3" y2="412.2" stroke-width="1.85" stroke-dasharray="5.3 2.1" marker-end="url(#ah)"/>
<line x1="393.2" y1="316.6" x2="299.4" y2="419.6" stroke-width="1.85" stroke-dasharray="5.3 2.1" marker-end="url(#ah)"/>
<line x1="531.3" y1="316.6" x2="317.5" y2="430.3" stroke-width="2.2" stroke-dasharray="7 2.9" marker-end="url(#ah)"/>
<line x1="750.3" y1="205.2" x2="326.8" y2="439.2" stroke-width="2.2" stroke-dasharray="7 2.9" marker-end="url(#ah)"/>
<line x1="716" y1="303.5" x2="339.6" y2="446" stroke-width="2.2" stroke-dasharray="7 2.9" marker-end="url(#ah)"/>
<line x1="661.9" y1="399.7" x2="344.4" y2="458.6" stroke-width="2.2" stroke-dasharray="7 2.9" marker-end="url(#ah)"/>
<line x1="586" y1="524.6" x2="346.3" y2="472.9" stroke-width="2.2" stroke-dasharray="7 2.9" marker-end="url(#ah)"/>
<line x1="412.4" y1="522.6" x2="326.4" y2="480.6" stroke-width="2.2" stroke-dasharray="7 2.9" marker-end="url(#ah)"/>
<line x1="75" y1="453" x2="180.5" y2="453" stroke-width="1.95" stroke-dasharray="6 2.4"/>
</g>
<line x1="86.6" y1="141" x2="178.2" y2="141" stroke="#c00000" stroke-width="2.5" stroke-dasharray="4.5 5.6"/>
<rect x="74.5" y="108.5" width="243" height="85" fill="none" stroke="#000" stroke-width="1"/>
<g font-family="Liberation Sans, Arial, Helvetica, sans-serif" fill="#2c2c2c">
<text x="178.8" y="144.7" font-size="19" textLength="134.6" lengthAdjust="spacingAndGlyphs">Syslog RFC 3164</text>
<text x="178.4" y="167.7" font-size="19" textLength="135" lengthAdjust="spacingAndGlyphs">data transmission</text>
</g>
<g font-family="Liberation Sans, Arial, Helvetica, sans-serif" font-weight="bold" fill="#000">
<text x="423.9" y="40.4" font-size="17" textLength="67.2" lengthAdjust="spacingAndGlyphs">Internet</text>
<text x="733.8" y="292.8" font-size="17.5" textLength="43.4" lengthAdjust="spacingAndGlyphs">WAN</text>
<text x="1.7" y="379.7" font-size="17.2" textLength="131.8" lengthAdjust="spacingAndGlyphs">Signed log files</text>
<text x="1.2" y="400.5" font-size="17.2" textLength="140" lengthAdjust="spacingAndGlyphs">per day per host</text>
<text x="179.8" y="514.2" font-size="17.2" textLength="97.6" lengthAdjust="spacingAndGlyphs">Centralized</text>
<text x="179.8" y="533.8" font-size="17.2" textLength="120.2" lengthAdjust="spacingAndGlyphs">Syslog Server</text>
</g>
<g font-family="Liberation Sans, Arial, Helvetica, sans-serif" font-weight="bold" font-size="11.4"><text x="759.8" y="229.4" fill="#e2001a" textLength="45.8" lengthAdjust="spacingAndGlyphs">Safed</text><text x="806.0" y="229.4" fill="#1a1a1a" textLength="48.2" lengthAdjust="spacingAndGlyphs">Agent</text></g>
<g font-family="Liberation Sans, Arial, Helvetica, sans-serif" font-weight="bold" font-size="11.4"><text x="724.6" y="394.8" fill="#e2001a" textLength="45.8" lengthAdjust="spacingAndGlyphs">Safed</text><text x="770.8000000000001" y="394.8" fill="#1a1a1a" textLength="48.2" lengthAdjust="spacingAndGlyphs">Agent</text></g>
<g font-family="Liberation Sans, Arial, Helvetica, sans-serif" font-weight="bold" font-size="11.4"><text x="365.4" y="583.6" fill="#e2001a" textLength="45.8" lengthAdjust="spacingAndGlyphs">Safed</text><text x="411.59999999999997" y="583.6" fill="#1a1a1a" textLength="48.2" lengthAdjust="spacingAndGlyphs">Agent</text></g>
<g font-family="Liberation Sans, Arial, Helvetica, sans-serif" font-weight="bold" font-size="11.4"><text x="623.4" y="587.3" fill="#e2001a" textLength="45.8" lengthAdjust="spacingAndGlyphs">Safed</text><text x="669.6" y="587.3" fill="#1a1a1a" textLength="48.2" lengthAdjust="spacingAndGlyphs">Agent</text></g>
</svg>
</body></html>
